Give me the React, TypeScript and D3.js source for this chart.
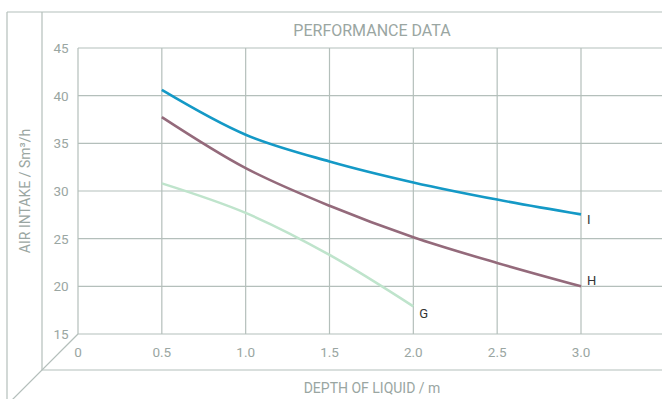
import React from "react";
import * as d3 from "d3";

const depthTicks = [0, 0.5, 1.0, 1.5, 2.0, 2.5, 3.0];
const depthTickLabels = ["0", "0.5", "1.0", "1.5", "2.0", "2.5", "3.0"];
const intakeTicks = [15, 20, 25, 30, 35, 40, 45];

const depthIH = [0.5, 1.0, 1.5, 2.0, 2.5, 3.0];
const depthG = [0.5, 1.0, 1.5, 2.0];
const seriesI = [40.6, 35.9, 33.1, 30.9, 29.1, 27.55];
const seriesH = [37.75, 32.4, 28.45, 25.15, 22.45, 20.0];
const seriesG = [30.8, 27.7, 23.3, 17.9];

const W = 662;
const H = 399;
const FONT = "Roboto, 'Open Sans', sans-serif";
const GRID = "#b4bfbb";
const TXT = "#9aa6a2";

export default function App() {
  const x = d3.scaleLinear().domain([0, 3.0]).range([78, 581]);
  const y = d3.scaleLinear().domain([15, 45]).range([334, 48]);

  const line = d3
    .line<[number, number]>()
    .x((d) => x(d[0]))
    .y((d) => y(d[1]))
    .curve(d3.curveCatmullRom.alpha(0.5));

  const series = [
    { name: "I", xs: depthIH, ys: seriesI, color: "#1499c6", dx: 6, dy: 5 },
    { name: "H", xs: depthIH, ys: seriesH, color: "#946a7b", dx: 6, dy: -6 },
    { name: "G", xs: depthG, ys: seriesG, color: "#bfe4cc", dx: 6, dy: 7 },
  ];

  const x0 = x(0);
  const yTop = y(45);
  const yBot = y(15);

  return (
    <svg
      width={W}
      height={H}
      style={{ position: "absolute", left: 0, top: 0, background: "#fff" }}
    >
      {/* frame */}
      <g stroke={GRID} strokeWidth={1.2} fill="none">
        <line x1={7} y1={12} x2={W} y2={12} />
        <line x1={7} y1={12} x2={7} y2={H} />
        <line x1={42} y1={12} x2={42} y2={370} />
        <line x1={42} y1={370} x2={W} y2={370} />
        <line x1={x0} y1={yBot} x2={x0 - 70} y2={yBot + 70} />
        {intakeTicks.map((t) => (
          <line key={"h" + t} x1={x0} y1={y(t)} x2={W} y2={y(t)} />
        ))}
        {depthTicks.map((t) => (
          <line key={"v" + t} x1={x(t)} y1={yTop} x2={x(t)} y2={yBot} />
        ))}
      </g>

      {/* title */}
      <text
        x={372}
        y={30}
        textAnchor="middle"
        dominantBaseline="central"
        fill={TXT}
        fontFamily={FONT}
        fontSize={16}
      >
        PERFORMANCE DATA
      </text>

      {/* y tick labels */}
      {intakeTicks.map((t) => (
        <text
          key={"yl" + t}
          x={61}
          y={y(t)}
          textAnchor="middle"
          dominantBaseline="central"
          fill={TXT}
          fontFamily={FONT}
          fontSize={13.5}
        >
          {t}
        </text>
      ))}

      {/* x tick labels */}
      {depthTicks.map((t, i) => (
        <text
          key={"xl" + t}
          x={x(t)}
          y={352}
          textAnchor="middle"
          dominantBaseline="central"
          fill={TXT}
          fontFamily={FONT}
          fontSize={13.5}
        >
          {depthTickLabels[i]}
        </text>
      ))}

      {/* axis titles */}
      <text
        x={372}
        y={388}
        textAnchor="middle"
        dominantBaseline="central"
        fill={TXT}
        fontFamily={FONT}
        fontSize={14}
      >
        DEPTH OF LIQUID / m
      </text>
      <text
        transform={`translate(25,${(yTop + yBot) / 2}) rotate(-90)`}
        textAnchor="middle"
        dominantBaseline="central"
        fill={TXT}
        fontFamily={FONT}
        fontSize={14}
      >
        AIR INTAKE / Sm³/h
      </text>

      {/* series */}
      {series.map((s) => {
        const pts = s.xs.map((v, i) => [v, s.ys[i]] as [number, number]);
        const last = pts[pts.length - 1];
        return (
          <g key={s.name}>
            <path
              d={line(pts) || ""}
              fill="none"
              stroke={s.color}
              strokeWidth={2.6}
            />
            <text
              x={x(last[0]) + s.dx}
              y={y(last[1]) + s.dy}
              dominantBaseline="central"
              fill="#333"
              fontFamily={FONT}
              fontSize={13}
            >
              {s.name}
            </text>
          </g>
        );
      })}
    </svg>
  );
}
